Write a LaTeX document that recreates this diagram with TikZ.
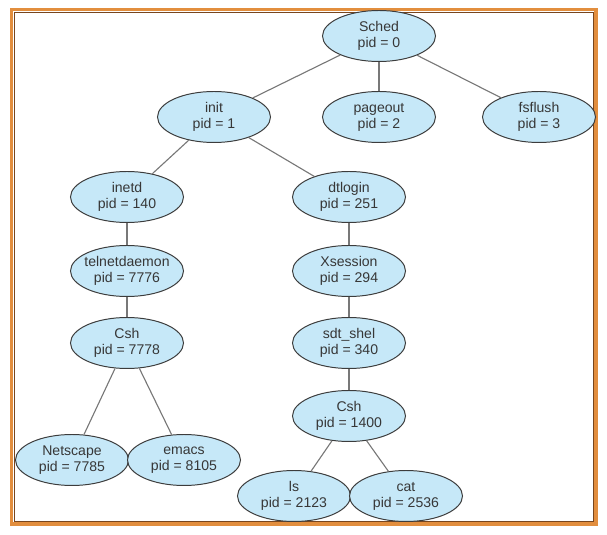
\documentclass[tikz,border=0pt]{standalone}
\usepackage{fontspec}
\setmainfont{Liberation Sans}
\usepackage{xcolor}
\usepackage{tikz}
\usetikzlibrary{positioning, shapes.geometric}

\definecolor{procblue}{RGB}{198,232,248}
\definecolor{edgegray}{RGB}{60,60,60}
\definecolor{linegray}{RGB}{120,120,120}
\definecolor{textgray}{RGB}{55,55,55}
\definecolor{frameorange}{RGB}{226,142,62}
\definecolor{framebrown}{RGB}{120,70,30}

\begin{document}
\begin{tikzpicture}[
    on grid,
    every node/.style={font=\fontsize{10}{11.4}\selectfont, text=textgray},
    proc/.style={ellipse, draw=edgegray, line width=0.7pt, fill=procblue,
                 minimum width=2.825cm, minimum height=1.275cm,
                 inner xsep=-3pt, inner ysep=0pt, align=center},
    link/.style={draw=linegray, line width=0.8pt}
]
    \useasboundingbox (0,0) rectangle (15.175,-13.375);
    % frame
    \draw[frameorange, line width=2.2pt] (0.29,-0.24) rectangle (14.9,-13.1);
    \draw[framebrown, line width=0.5pt] (0.36,-0.3) rectangle (14.83,-13.04);

    \node[proc] (sched) at (9.475,-0.9) {Sched\\pid = 0};
    \node[proc, below left=2.025cm and 4.125cm of sched] (init) {init\\pid = 1};
    \node[proc, below=2.025cm of sched] (pageout) {pageout\\pid = 2};
    \node[proc, below right=2.025cm and 4cm of sched] (fsflush) {fsflush\\pid = 3};
    \node[proc, below left=2cm and 2.175cm of init] (inetd) {inetd\\pid = 140};
    \node[proc, below right=2cm and 3.375cm of init] (dtlogin) {dtlogin\\pid = 251};
    \node[proc, below=1.85cm of inetd] (telnet) {telnetdaemon\\pid = 7776};
    \node[proc, below=1.85cm of dtlogin] (xsession) {Xsession\\pid = 294};
    \node[proc, below=1.8cm of telnet] (csha) {Csh\\pid = 7778};
    \node[proc, below=1.8cm of xsession] (sdtshel) {sdt\_shel\\pid = 340};
    \node[proc, below=1.825cm of sdtshel] (cshb) {Csh\\pid = 1400};
    \node[proc, below left=2.925cm and 1.375cm of csha] (netscape) {Netscape\\pid = 7785};
    \node[proc, below right=2.925cm and 1.425cm of csha] (emacs) {emacs\\pid = 8105};
    \node[proc, below left=2cm and 1.375cm of cshb] (ls) {ls\\pid = 2123};
    \node[proc, below right=2cm and 1.425cm of cshb] (cat) {cat\\pid = 2536};

    \draw[link] (sched) -- (init);
    \draw[link] (sched) -- (pageout);
    \draw[link] (sched) -- (fsflush);
    \draw[link] (init) -- (inetd);
    \draw[link] (init) -- (dtlogin);
    \draw[link] (inetd) -- (telnet);
    \draw[link] (telnet) -- (csha);
    \draw[link] (csha) -- (netscape);
    \draw[link] (csha) -- (emacs);
    \draw[link] (dtlogin) -- (xsession);
    \draw[link] (xsession) -- (sdtshel);
    \draw[link] (sdtshel) -- (cshb);
    \draw[link] (cshb) -- (ls);
    \draw[link] (cshb) -- (cat);
\end{tikzpicture}
\end{document}
